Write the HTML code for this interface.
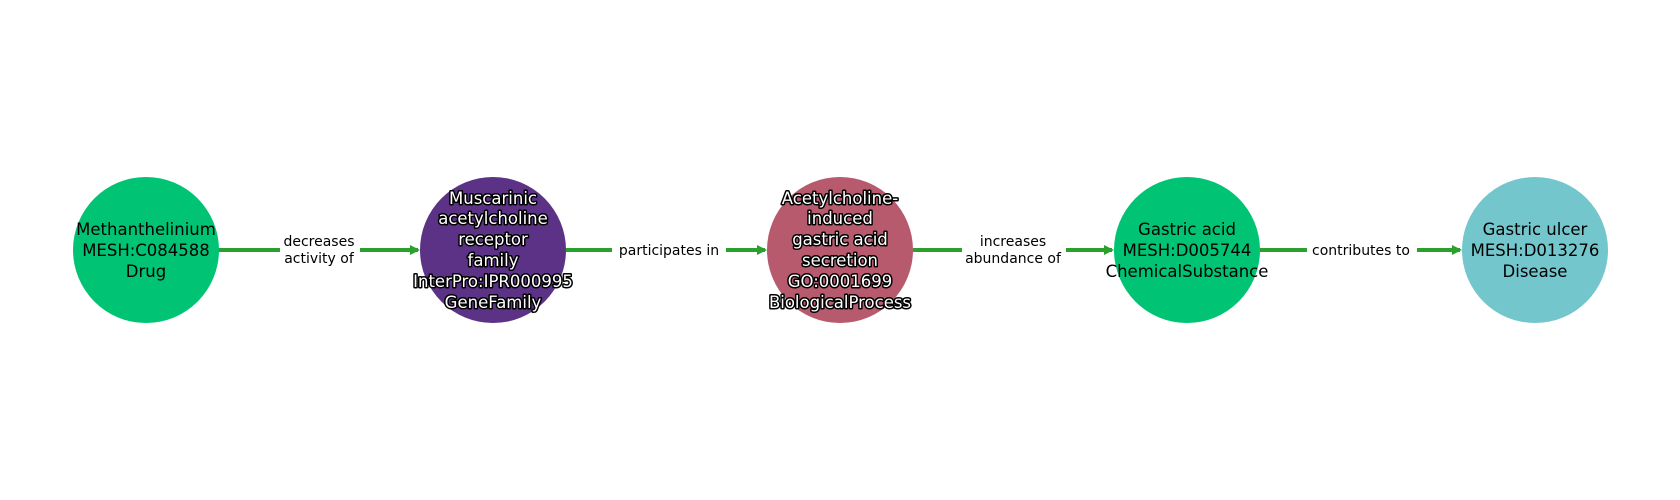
<!DOCTYPE html>
<html><head><meta charset="utf-8"><style>
html,body{margin:0;padding:0;background:#fff;width:1680px;height:500px;overflow:hidden}
svg text{font-family:"DejaVu Sans","Liberation Sans",sans-serif}
.n{font-size:16.5px;text-anchor:middle;fill:#000}
.w{font-size:16.5px;text-anchor:middle;fill:#fff;stroke:#000;stroke-width:3px;paint-order:stroke;stroke-linejoin:round}
.e{font-size:14px;text-anchor:middle;fill:#000}
</style></head><body>
<svg width="1680" height="500" xmlns="http://www.w3.org/2000/svg">
<defs><marker id="a" markerWidth="10" markerHeight="10" refX="8" refY="5" orient="auto" markerUnits="userSpaceOnUse"><path d="M0,0 L10,5 L0,10 Z" fill="#2ca02c"/></marker></defs>
<g stroke="#2ca02c" stroke-width="4" marker-end="url(#a)">
<line x1="218" y1="250" x2="418" y2="250"/>
<line x1="566" y1="250" x2="765" y2="250"/>
<line x1="913" y1="250" x2="1112" y2="250"/>
<line x1="1260" y1="250" x2="1460" y2="250"/>
</g>
<g fill="#fff">
<rect x="280" y="230" width="80" height="40"/>
<rect x="612" y="240" width="114" height="20"/>
<rect x="962" y="230" width="104" height="40"/>
<rect x="1307" y="240" width="110" height="20"/>
</g>
<text class="e" x="319" y="246">decreases</text><text class="e" x="319" y="263">activity of</text>
<text class="e" x="669" y="255">participates in</text>
<text class="e" x="1013" y="246">increases</text><text class="e" x="1013" y="263">abundance of</text>
<text class="e" x="1361" y="255">contributes to</text>
<circle cx="146" cy="250" r="73" fill="#00c373"/>
<circle cx="493" cy="250" r="73" fill="#5b3286"/>
<circle cx="840" cy="250" r="73" fill="#b85a6e"/>
<circle cx="1187" cy="250" r="73" fill="#00c373"/>
<circle cx="1535" cy="250" r="73" fill="#72c6cc"/>
<text class="n" x="146" y="235">Methanthelinium</text><text class="n" x="146" y="256">MESH:C084588</text><text class="n" x="146" y="277">Drug</text>
<g class="w">
<text class="w" x="493" y="204">Muscarinic</text><text class="w" x="493" y="224">acetylcholine</text><text class="w" x="493" y="245">receptor</text><text class="w" x="493" y="266">family</text><text class="w" x="493" y="287">InterPro:IPR000995</text><text class="w" x="493" y="308">GeneFamily</text>
<text class="w" x="840" y="204">Acetylcholine-</text><text class="w" x="840" y="224">induced</text><text class="w" x="840" y="245">gastric acid</text><text class="w" x="840" y="266">secretion</text><text class="w" x="840" y="287">GO:0001699</text><text class="w" x="840" y="308">BiologicalProcess</text>
</g>
<text class="n" x="1187" y="235">Gastric acid</text><text class="n" x="1187" y="256">MESH:D005744</text><text class="n" x="1187" y="277">ChemicalSubstance</text>
<text class="n" x="1535" y="235">Gastric ulcer</text><text class="n" x="1535" y="256">MESH:D013276</text><text class="n" x="1535" y="277">Disease</text>
</svg>
</body></html>
